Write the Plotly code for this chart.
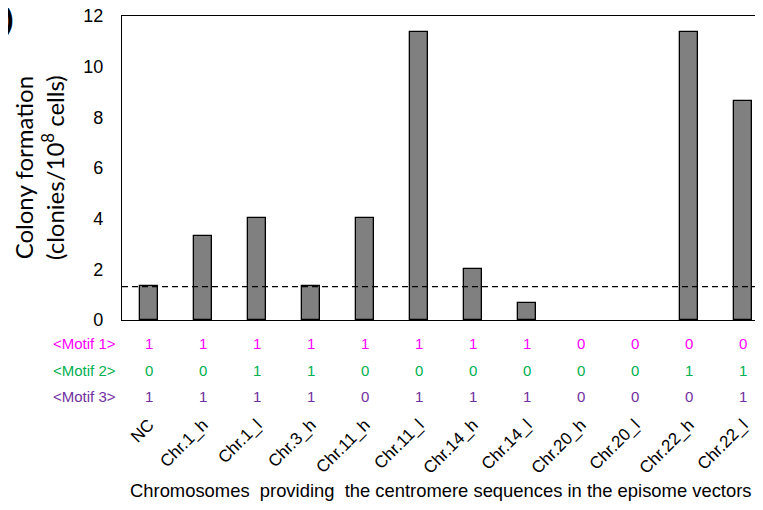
import plotly.graph_objects as go

categories = ["NC", "Chr.1_h", "Chr.1_l", "Chr.3_h", "Chr.11_h", "Chr.11_l",
              "Chr.14_h", "Chr.14_l", "Chr.20_h", "Chr.20_l", "Chr.22_h", "Chr.22_l"]
colony = [1.35, 3.33, 4.01, 1.35, 4.01, 11.36, 2.03, 0.68, 0, 0, 11.36, 8.66]
baseline = 1.32
motif_names = ["&lt;Motif 1&gt;", "&lt;Motif 2&gt;", "&lt;Motif 3&gt;"]
motif1 = [1, 1, 1, 1, 1, 1, 1, 1, 0, 0, 0, 0]
motif2 = [0, 0, 1, 1, 0, 0, 0, 0, 0, 0, 1, 1]
motif3 = [1, 1, 1, 1, 0, 1, 1, 1, 0, 0, 0, 1]
motif_colors = ["#FF00FF", "#00B050", "#7030A0"]
yticks = [0, 2, 4, 6, 8, 10, 12]

# page body has an 8px margin; the figure is sized to fit the remaining window
OFF = 8
W, H = 763 - OFF, 510 - OFF
ml, mt = 122 - OFF, 16 - OFF
plot_bottom = 320 - OFF
mb = H - plot_bottom
pw = W - ml
ph = plot_bottom - mt
cat_px = 54.0

def px_x(sx):
    return (sx - OFF - ml) / pw

def px_y(sy):
    return (plot_bottom - (sy - OFF)) / ph

fig = go.Figure()
fig.add_trace(go.Bar(
    x=list(range(len(categories))), y=colony, width=0.33,
    marker=dict(color="#808080",
                line=dict(color="black", width=[1.3 if v > 0 else 0 for v in colony])),
    showlegend=False, hoverinfo="skip"))

fig.add_shape(type="line", xref="paper", yref="y", x0=0, x1=1, y0=baseline, y1=baseline,
              line=dict(color="black", width=1.3, dash="6px,4px"))

annotations = []
fonts = "Liberation Sans, Arial, sans-serif"
rows = [motif1, motif2, motif3]
row_y = [343, 370, 396]
for name, vals, col, yy in zip(motif_names, rows, motif_colors, row_y):
    annotations.append(dict(text=name, xref="paper", yref="paper", x=px_x(118), y=px_y(yy),
                            xanchor="right", yanchor="middle", showarrow=False,
                            font=dict(family=fonts, size=15, color=col)))
    for i, v in enumerate(vals):
        annotations.append(dict(text=str(v), xref="x", yref="paper", x=i, y=px_y(yy),
                                xanchor="center", yanchor="middle", showarrow=False,
                                font=dict(family=fonts, size=15, color=col)))

annotations.append(dict(text="Colony formation<br>(clonies/10<sup>8</sup> cells)",
                        xref="paper", yref="paper", x=px_x(39), y=px_y(167),
                        xanchor="center", yanchor="middle", textangle=-90, showarrow=False,
                        font=dict(family="Lato, Calibri, sans-serif", size=24, color="black")))
annotations.append(dict(text="Chromosomes&nbsp; providing&nbsp; the centromere sequences in the episome vectors",
                        xref="paper", yref="paper", x=px_x(441), y=px_y(490),
                        xanchor="center", yanchor="middle", showarrow=False,
                        font=dict(family=fonts, size=18.4, color="black")))
annotations.append(dict(text="<b>C)</b>", xref="paper", yref="paper", x=px_x(16), y=px_y(19),
                        xanchor="right", yanchor="middle", showarrow=False,
                        font=dict(family=fonts, size=30, color="black")))

fig.update_layout(
    width=W, height=H,
    margin=dict(l=ml, r=0, t=mt, b=mb, pad=0, autoexpand=False),
    plot_bgcolor="white", paper_bgcolor="white",
    bargap=0,
    annotations=annotations,
    xaxis=dict(range=[-0.5, -0.5 + pw / cat_px], tickmode="array",
               tickvals=list(range(len(categories))), ticktext=categories,
               tickangle=-45, ticks="", ticklabelstandoff=87, automargin=False,
               showline=True, linecolor="black", linewidth=1.3, mirror=True,
               showgrid=False, zeroline=False,
               tickfont=dict(family=fonts, size=17, color="black")),
    yaxis=dict(range=[0, 12], tickvals=yticks, ticks="", ticklabelstandoff=14, automargin=False,
               ticklabeloverflow="allow",
               showline=True, linecolor="black", linewidth=1.3, mirror=False,
               showgrid=False, zeroline=False,
               tickfont=dict(family=fonts, size=18, color="black")),
)

fig.write_html("out.html")
